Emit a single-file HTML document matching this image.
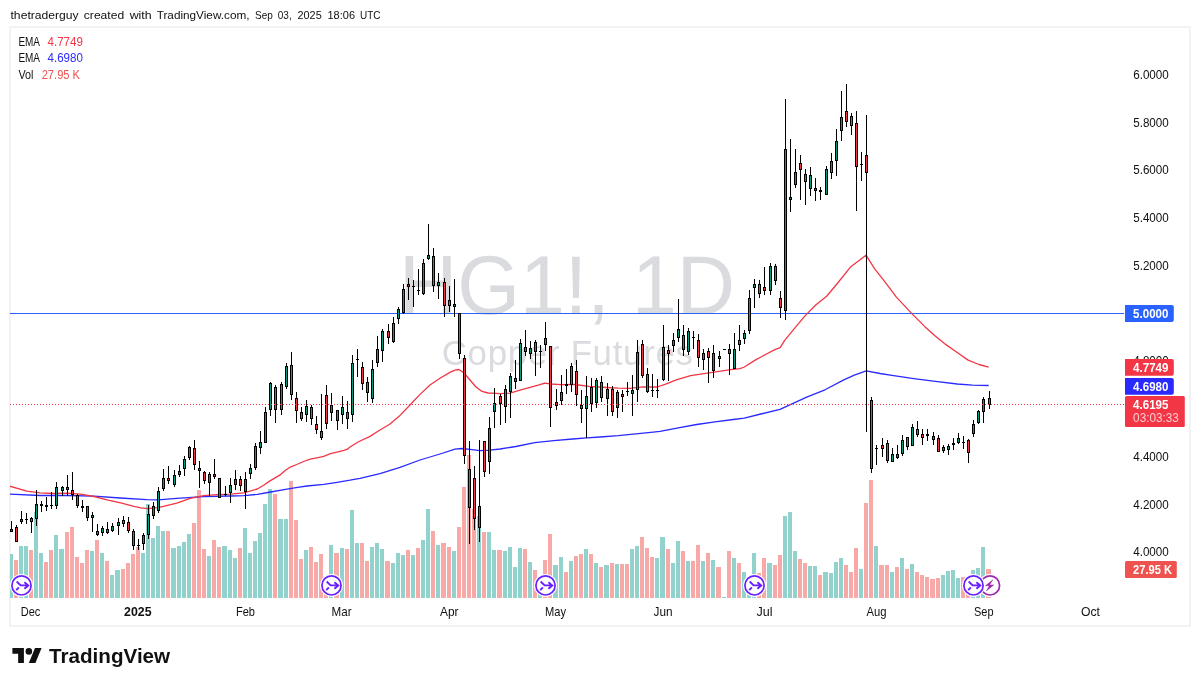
<!DOCTYPE html>
<html lang="en"><head><meta charset="utf-8"><title>HG1! 1D chart</title>
<style>html,body{margin:0;padding:0;background:#fff;}body{width:1200px;height:686px;overflow:hidden;position:relative;font-family:"Liberation Sans",sans-serif;}svg{position:absolute;left:0;top:0;display:block;}text{font-family:"Liberation Sans",sans-serif;}</style>
</head><body>
<svg width="1200" height="686" viewBox="0 0 1200 686">
<rect x="0" y="0" width="1200" height="686" fill="#ffffff"/>
<text y="18.8" font-size="11.3" fill="#101010"><tspan x="10.5" textLength="68.2" lengthAdjust="spacingAndGlyphs">thetraderguy</tspan> <tspan x="83.8" textLength="40.4" lengthAdjust="spacingAndGlyphs">created</tspan> <tspan x="129.7" textLength="22.0" lengthAdjust="spacingAndGlyphs">with</tspan> <tspan x="156.7" textLength="92.8" lengthAdjust="spacingAndGlyphs">TradingView.com,</tspan> <tspan x="255" textLength="17.8" lengthAdjust="spacingAndGlyphs">Sep</tspan> <tspan x="277.8" textLength="13.9" lengthAdjust="spacingAndGlyphs">03,</tspan> <tspan x="297.5" textLength="24.2" lengthAdjust="spacingAndGlyphs">2025</tspan> <tspan x="327.5" textLength="27.5" lengthAdjust="spacingAndGlyphs">18:06</tspan> <tspan x="360" textLength="20.5" lengthAdjust="spacingAndGlyphs">UTC</tspan></text>
<rect x="10" y="27" width="1180" height="599" fill="#ffffff" stroke="#f2f2f2" stroke-width="2" shape-rendering="crispEdges"/>
<g fill="#dadbde">
<text x="399.1" y="314" font-size="82.8" textLength="336" lengthAdjust="spacingAndGlyphs">HG1!, 1D</text>
<text x="441.7" y="364.6" font-size="34.8" textLength="251.3" lengthAdjust="spacing">Copper Futures</text>
</g>
<defs><clipPath id="pane"><rect x="10" y="28" width="1115" height="571"/></clipPath></defs>
<g clip-path="url(#pane)">
<g shape-rendering="crispEdges">
<rect x="9" y="554" width="4" height="44" fill="#92d2cc"/>
<rect x="14" y="560" width="4" height="38" fill="#f7a9a7"/>
<rect x="19" y="546" width="4" height="52" fill="#92d2cc"/>
<rect x="24" y="546" width="4" height="52" fill="#92d2cc"/>
<rect x="29" y="550" width="4" height="48" fill="#f7a9a7"/>
<rect x="34" y="512" width="4" height="86" fill="#92d2cc"/>
<rect x="39" y="553" width="4" height="45" fill="#92d2cc"/>
<rect x="44" y="562" width="4" height="36" fill="#f7a9a7"/>
<rect x="49" y="550" width="4" height="48" fill="#f7a9a7"/>
<rect x="54" y="535" width="4" height="63" fill="#92d2cc"/>
<rect x="59" y="549" width="5" height="49" fill="#92d2cc"/>
<rect x="65" y="532" width="4" height="66" fill="#f7a9a7"/>
<rect x="70" y="527" width="4" height="71" fill="#f7a9a7"/>
<rect x="75" y="557" width="4" height="41" fill="#f7a9a7"/>
<rect x="80" y="563" width="4" height="35" fill="#f7a9a7"/>
<rect x="85" y="550" width="4" height="48" fill="#f7a9a7"/>
<rect x="90" y="551" width="4" height="47" fill="#92d2cc"/>
<rect x="95" y="540" width="4" height="58" fill="#f7a9a7"/>
<rect x="100" y="553" width="4" height="45" fill="#92d2cc"/>
<rect x="105" y="561" width="4" height="37" fill="#f7a9a7"/>
<rect x="110" y="575" width="4" height="23" fill="#92d2cc"/>
<rect x="115" y="570" width="5" height="28" fill="#92d2cc"/>
<rect x="121" y="569" width="4" height="29" fill="#f7a9a7"/>
<rect x="126" y="563" width="4" height="35" fill="#f7a9a7"/>
<rect x="131" y="554" width="4" height="44" fill="#f7a9a7"/>
<rect x="136" y="547" width="4" height="51" fill="#f7a9a7"/>
<rect x="141" y="553" width="4" height="45" fill="#92d2cc"/>
<rect x="146" y="504" width="4" height="94" fill="#92d2cc"/>
<rect x="151" y="538" width="4" height="60" fill="#92d2cc"/>
<rect x="156" y="526" width="4" height="72" fill="#92d2cc"/>
<rect x="161" y="531" width="4" height="67" fill="#92d2cc"/>
<rect x="166" y="531" width="4" height="67" fill="#f7a9a7"/>
<rect x="171" y="548" width="5" height="50" fill="#92d2cc"/>
<rect x="177" y="546" width="4" height="52" fill="#92d2cc"/>
<rect x="182" y="542" width="4" height="56" fill="#92d2cc"/>
<rect x="187" y="534" width="4" height="64" fill="#92d2cc"/>
<rect x="192" y="523" width="4" height="75" fill="#f7a9a7"/>
<rect x="197" y="490" width="4" height="108" fill="#f7a9a7"/>
<rect x="202" y="549" width="4" height="49" fill="#f7a9a7"/>
<rect x="207" y="556" width="4" height="42" fill="#92d2cc"/>
<rect x="212" y="540" width="4" height="58" fill="#f7a9a7"/>
<rect x="217" y="547" width="4" height="51" fill="#f7a9a7"/>
<rect x="222" y="546" width="5" height="52" fill="#92d2cc"/>
<rect x="228" y="550" width="4" height="48" fill="#92d2cc"/>
<rect x="233" y="558" width="4" height="40" fill="#92d2cc"/>
<rect x="238" y="548" width="4" height="50" fill="#f7a9a7"/>
<rect x="243" y="528" width="4" height="70" fill="#92d2cc"/>
<rect x="248" y="553" width="4" height="45" fill="#92d2cc"/>
<rect x="253" y="541" width="4" height="57" fill="#92d2cc"/>
<rect x="258" y="533" width="4" height="65" fill="#92d2cc"/>
<rect x="263" y="504" width="4" height="94" fill="#92d2cc"/>
<rect x="268" y="489" width="4" height="109" fill="#92d2cc"/>
<rect x="273" y="494" width="4" height="104" fill="#f7a9a7"/>
<rect x="278" y="519" width="5" height="79" fill="#92d2cc"/>
<rect x="284" y="519" width="4" height="79" fill="#92d2cc"/>
<rect x="289" y="481" width="4" height="117" fill="#f7a9a7"/>
<rect x="294" y="520" width="4" height="78" fill="#f7a9a7"/>
<rect x="299" y="559" width="4" height="39" fill="#f7a9a7"/>
<rect x="304" y="550" width="4" height="48" fill="#92d2cc"/>
<rect x="309" y="547" width="4" height="51" fill="#f7a9a7"/>
<rect x="314" y="562" width="4" height="36" fill="#f7a9a7"/>
<rect x="319" y="554" width="4" height="44" fill="#f7a9a7"/>
<rect x="324" y="586" width="4" height="12" fill="#f7a9a7"/>
<rect x="329" y="545" width="4" height="53" fill="#92d2cc"/>
<rect x="334" y="553" width="5" height="45" fill="#f7a9a7"/>
<rect x="340" y="548" width="4" height="50" fill="#92d2cc"/>
<rect x="345" y="549" width="4" height="49" fill="#f7a9a7"/>
<rect x="350" y="510" width="4" height="88" fill="#92d2cc"/>
<rect x="355" y="543" width="4" height="55" fill="#92d2cc"/>
<rect x="360" y="543" width="4" height="55" fill="#f7a9a7"/>
<rect x="365" y="561" width="4" height="37" fill="#f7a9a7"/>
<rect x="370" y="547" width="4" height="51" fill="#92d2cc"/>
<rect x="375" y="543" width="4" height="55" fill="#92d2cc"/>
<rect x="380" y="549" width="4" height="49" fill="#92d2cc"/>
<rect x="385" y="561" width="5" height="37" fill="#f7a9a7"/>
<rect x="391" y="563" width="4" height="35" fill="#92d2cc"/>
<rect x="396" y="553" width="4" height="45" fill="#92d2cc"/>
<rect x="401" y="555" width="4" height="43" fill="#92d2cc"/>
<rect x="406" y="550" width="4" height="48" fill="#f7a9a7"/>
<rect x="411" y="555" width="4" height="43" fill="#92d2cc"/>
<rect x="416" y="548" width="4" height="50" fill="#f7a9a7"/>
<rect x="421" y="540" width="4" height="58" fill="#92d2cc"/>
<rect x="426" y="509" width="4" height="89" fill="#92d2cc"/>
<rect x="431" y="531" width="4" height="67" fill="#f7a9a7"/>
<rect x="436" y="545" width="4" height="53" fill="#92d2cc"/>
<rect x="441" y="543" width="5" height="55" fill="#f7a9a7"/>
<rect x="447" y="547" width="4" height="51" fill="#f7a9a7"/>
<rect x="452" y="551" width="4" height="47" fill="#92d2cc"/>
<rect x="457" y="527" width="4" height="71" fill="#f7a9a7"/>
<rect x="462" y="487" width="4" height="111" fill="#f7a9a7"/>
<rect x="467" y="455" width="4" height="143" fill="#f7a9a7"/>
<rect x="472" y="509" width="4" height="89" fill="#f7a9a7"/>
<rect x="477" y="516" width="4" height="82" fill="#92d2cc"/>
<rect x="482" y="532" width="4" height="66" fill="#f7a9a7"/>
<rect x="487" y="532" width="4" height="66" fill="#92d2cc"/>
<rect x="492" y="550" width="4" height="48" fill="#92d2cc"/>
<rect x="497" y="550" width="5" height="48" fill="#f7a9a7"/>
<rect x="503" y="551" width="4" height="47" fill="#92d2cc"/>
<rect x="508" y="547" width="4" height="51" fill="#92d2cc"/>
<rect x="513" y="567" width="4" height="31" fill="#92d2cc"/>
<rect x="518" y="548" width="4" height="50" fill="#92d2cc"/>
<rect x="523" y="549" width="4" height="49" fill="#f7a9a7"/>
<rect x="528" y="562" width="4" height="36" fill="#92d2cc"/>
<rect x="533" y="570" width="4" height="28" fill="#f7a9a7"/>
<rect x="538" y="586" width="4" height="12" fill="#92d2cc"/>
<rect x="543" y="560" width="4" height="38" fill="#f7a9a7"/>
<rect x="548" y="534" width="4" height="64" fill="#f7a9a7"/>
<rect x="553" y="565" width="5" height="33" fill="#92d2cc"/>
<rect x="559" y="557" width="4" height="41" fill="#92d2cc"/>
<rect x="564" y="572" width="4" height="26" fill="#f7a9a7"/>
<rect x="569" y="561" width="4" height="37" fill="#92d2cc"/>
<rect x="574" y="556" width="4" height="42" fill="#f7a9a7"/>
<rect x="579" y="554" width="4" height="44" fill="#f7a9a7"/>
<rect x="584" y="549" width="4" height="49" fill="#92d2cc"/>
<rect x="589" y="554" width="4" height="44" fill="#f7a9a7"/>
<rect x="594" y="563" width="4" height="35" fill="#92d2cc"/>
<rect x="599" y="567" width="4" height="31" fill="#f7a9a7"/>
<rect x="604" y="565" width="5" height="33" fill="#92d2cc"/>
<rect x="610" y="563" width="4" height="35" fill="#f7a9a7"/>
<rect x="615" y="564" width="4" height="34" fill="#92d2cc"/>
<rect x="620" y="564" width="4" height="34" fill="#f7a9a7"/>
<rect x="625" y="564" width="4" height="34" fill="#f7a9a7"/>
<rect x="630" y="549" width="4" height="49" fill="#92d2cc"/>
<rect x="635" y="546" width="4" height="52" fill="#92d2cc"/>
<rect x="640" y="537" width="4" height="61" fill="#f7a9a7"/>
<rect x="645" y="548" width="4" height="50" fill="#f7a9a7"/>
<rect x="650" y="557" width="4" height="41" fill="#f7a9a7"/>
<rect x="655" y="558" width="4" height="40" fill="#92d2cc"/>
<rect x="660" y="537" width="5" height="61" fill="#92d2cc"/>
<rect x="666" y="549" width="4" height="49" fill="#f7a9a7"/>
<rect x="671" y="563" width="4" height="35" fill="#92d2cc"/>
<rect x="676" y="541" width="4" height="57" fill="#92d2cc"/>
<rect x="681" y="551" width="4" height="47" fill="#f7a9a7"/>
<rect x="686" y="561" width="4" height="37" fill="#92d2cc"/>
<rect x="691" y="561" width="4" height="37" fill="#f7a9a7"/>
<rect x="696" y="545" width="4" height="53" fill="#f7a9a7"/>
<rect x="701" y="561" width="4" height="37" fill="#92d2cc"/>
<rect x="706" y="553" width="4" height="45" fill="#f7a9a7"/>
<rect x="711" y="560" width="4" height="38" fill="#92d2cc"/>
<rect x="716" y="567" width="5" height="31" fill="#f7a9a7"/>
<rect x="722" y="597" width="4" height="1" fill="#92d2cc"/>
<rect x="727" y="551" width="4" height="47" fill="#f7a9a7"/>
<rect x="732" y="558" width="4" height="40" fill="#92d2cc"/>
<rect x="737" y="563" width="4" height="35" fill="#f7a9a7"/>
<rect x="742" y="572" width="4" height="26" fill="#92d2cc"/>
<rect x="747" y="586" width="4" height="12" fill="#92d2cc"/>
<rect x="752" y="553" width="4" height="45" fill="#92d2cc"/>
<rect x="757" y="573" width="4" height="25" fill="#f7a9a7"/>
<rect x="762" y="558" width="4" height="40" fill="#f7a9a7"/>
<rect x="767" y="563" width="5" height="35" fill="#92d2cc"/>
<rect x="773" y="565" width="4" height="33" fill="#f7a9a7"/>
<rect x="778" y="555" width="4" height="43" fill="#f7a9a7"/>
<rect x="783" y="516" width="4" height="82" fill="#92d2cc"/>
<rect x="788" y="512" width="4" height="86" fill="#92d2cc"/>
<rect x="793" y="551" width="4" height="47" fill="#92d2cc"/>
<rect x="798" y="559" width="4" height="39" fill="#f7a9a7"/>
<rect x="803" y="563" width="4" height="35" fill="#f7a9a7"/>
<rect x="808" y="566" width="4" height="32" fill="#92d2cc"/>
<rect x="813" y="566" width="4" height="32" fill="#92d2cc"/>
<rect x="818" y="575" width="4" height="23" fill="#f7a9a7"/>
<rect x="823" y="572" width="5" height="26" fill="#92d2cc"/>
<rect x="829" y="573" width="4" height="25" fill="#92d2cc"/>
<rect x="834" y="562" width="4" height="36" fill="#92d2cc"/>
<rect x="839" y="558" width="4" height="40" fill="#92d2cc"/>
<rect x="844" y="565" width="4" height="33" fill="#f7a9a7"/>
<rect x="849" y="572" width="4" height="26" fill="#f7a9a7"/>
<rect x="854" y="548" width="4" height="50" fill="#f7a9a7"/>
<rect x="859" y="569" width="4" height="29" fill="#92d2cc"/>
<rect x="864" y="503" width="4" height="95" fill="#f7a9a7"/>
<rect x="869" y="480" width="4" height="118" fill="#f7a9a7"/>
<rect x="874" y="546" width="4" height="52" fill="#92d2cc"/>
<rect x="879" y="565" width="5" height="33" fill="#f7a9a7"/>
<rect x="885" y="565" width="4" height="33" fill="#f7a9a7"/>
<rect x="890" y="572" width="4" height="26" fill="#92d2cc"/>
<rect x="895" y="567" width="4" height="31" fill="#f7a9a7"/>
<rect x="900" y="558" width="4" height="40" fill="#92d2cc"/>
<rect x="905" y="569" width="4" height="29" fill="#f7a9a7"/>
<rect x="910" y="564" width="4" height="34" fill="#92d2cc"/>
<rect x="915" y="572" width="4" height="26" fill="#f7a9a7"/>
<rect x="920" y="575" width="4" height="23" fill="#f7a9a7"/>
<rect x="925" y="577" width="4" height="21" fill="#f7a9a7"/>
<rect x="930" y="579" width="5" height="19" fill="#f7a9a7"/>
<rect x="936" y="578" width="4" height="20" fill="#f7a9a7"/>
<rect x="941" y="575" width="4" height="23" fill="#92d2cc"/>
<rect x="946" y="571" width="4" height="27" fill="#92d2cc"/>
<rect x="951" y="570" width="4" height="28" fill="#92d2cc"/>
<rect x="956" y="578" width="4" height="20" fill="#92d2cc"/>
<rect x="961" y="577" width="4" height="21" fill="#f7a9a7"/>
<rect x="966" y="586" width="4" height="12" fill="#f7a9a7"/>
<rect x="971" y="570" width="4" height="28" fill="#92d2cc"/>
<rect x="976" y="568" width="4" height="30" fill="#92d2cc"/>
<rect x="981" y="547" width="4" height="51" fill="#92d2cc"/>
<rect x="986" y="569" width="5" height="29" fill="#f7a9a7"/>
</g>
<rect x="10" y="313" width="1114" height="1" fill="#2962ff" shape-rendering="crispEdges"/>
<path d="M10.0,494.2 L40.0,495.5 L67.0,495.5 L94.0,496.2 L120.0,498.0 L147.0,499.6 L158.0,499.8 L176.8,498.4 L203.6,496.7 L230.5,496.0 L243.9,495.7 L257.3,494.4 L270.7,492.0 L284.1,489.7 L297.5,487.4 L306.9,486.0 L323.7,484.3 L337.1,482.3 L350.0,480.2 L360.0,478.3 L380.0,473.6 L400.0,467.4 L420.0,460.0 L440.0,454.0 L455.0,449.2 L462.0,448.5 L470.0,449.4 L480.0,450.7 L490.0,450.2 L500.0,449.0 L515.8,446.5 L534.8,442.7 L553.7,440.7 L572.7,439.0 L586.8,437.9 L600.0,437.0 L618.3,435.6 L653.3,432.1 L660.0,431.4 L678.3,427.8 L696.7,424.5 L715.0,421.9 L733.3,419.5 L744.3,418.2 L760.8,414.0 L780.0,409.4 L792.0,403.9 L806.7,397.1 L825.0,389.8 L843.3,380.1 L854.3,375.1 L866.3,370.9 L880.0,373.5 L892.0,375.3 L913.8,378.6 L935.5,381.4 L957.2,384.0 L972.4,385.1 L988.7,385.5" fill="none" stroke="#2a2aff" stroke-width="1.3" stroke-linejoin="round"/>
<path d="M10.0,486.2 L26.8,491.1 L40.0,492.9 L53.6,493.5 L67.0,493.1 L80.5,494.2 L94.0,496.5 L107.0,499.8 L120.7,502.9 L134.0,506.3 L141.0,507.9 L147.5,508.6 L158.0,507.6 L163.4,506.4 L176.8,503.1 L190.2,498.4 L203.6,495.7 L217.0,494.6 L230.5,494.1 L243.9,492.8 L257.3,489.0 L264.0,485.0 L270.0,480.9 L280.1,474.9 L285.4,470.2 L290.1,467.2 L296.8,464.5 L303.5,461.5 L310.2,459.1 L316.9,457.8 L323.7,456.4 L330.4,453.7 L337.1,452.1 L343.8,450.4 L347.1,449.4 L350.0,447.0 L358.0,442.0 L370.0,436.4 L380.0,430.0 L390.0,424.0 L400.0,415.4 L410.0,405.0 L420.0,394.4 L430.0,385.0 L440.0,378.3 L450.0,372.4 L455.0,370.2 L459.0,369.5 L464.0,373.0 L470.0,380.0 L476.0,387.0 L482.0,391.4 L488.0,393.0 L500.0,393.7 L510.0,393.2 L520.0,390.2 L530.0,387.4 L540.0,384.6 L544.6,383.2 L551.3,384.0 L560.7,384.7 L575.0,384.5 L589.0,386.4 L606.6,387.5 L618.0,388.2 L630.0,388.3 L643.0,386.8 L657.0,387.0 L665.0,384.3 L677.0,379.7 L690.6,375.7 L704.0,373.7 L717.4,371.7 L730.8,369.7 L740.0,368.6 L744.3,367.0 L755.2,360.1 L766.0,354.3 L774.8,349.7 L780.2,347.7 L784.5,340.6 L794.3,328.6 L805.2,315.6 L816.0,304.7 L826.9,296.0 L837.7,283.0 L850.8,266.7 L866.0,255.2 L874.7,268.9 L883.4,279.8 L896.4,297.1 L911.6,313.4 L924.6,326.4 L935.5,336.2 L946.3,344.9 L957.2,352.5 L968.1,360.1 L978.9,364.5 L988.7,367.1" fill="none" stroke="#f23645" stroke-width="1.3" stroke-linejoin="round"/>
<g shape-rendering="crispEdges">
<rect x="11" y="521" width="1" height="11" fill="#000"/>
<rect x="10" y="529" width="3" height="3" fill="#000"/>
<rect x="11" y="530" width="1" height="1" fill="#089981"/>
<rect x="16" y="525" width="1" height="17" fill="#000"/>
<rect x="15" y="527" width="3" height="15" fill="#000"/>
<rect x="16" y="528" width="1" height="13" fill="#f23645"/>
<rect x="21" y="511" width="1" height="13" fill="#000"/>
<rect x="20" y="519" width="3" height="3" fill="#000"/>
<rect x="21" y="520" width="1" height="1" fill="#089981"/>
<rect x="26" y="513" width="1" height="11" fill="#000"/>
<rect x="25" y="519" width="3" height="1" fill="#000"/>
<rect x="31" y="517" width="1" height="16" fill="#000"/>
<rect x="30" y="518" width="3" height="4" fill="#000"/>
<rect x="31" y="519" width="1" height="2" fill="#f23645"/>
<rect x="36" y="490" width="1" height="36" fill="#000"/>
<rect x="35" y="504" width="3" height="15" fill="#000"/>
<rect x="36" y="505" width="1" height="13" fill="#089981"/>
<rect x="41" y="501" width="1" height="11" fill="#000"/>
<rect x="40" y="504" width="3" height="2" fill="#000"/>
<rect x="46" y="497" width="1" height="14" fill="#000"/>
<rect x="45" y="505" width="3" height="2" fill="#000"/>
<rect x="51" y="492" width="1" height="17" fill="#000"/>
<rect x="50" y="505" width="3" height="1" fill="#000"/>
<rect x="56" y="482" width="1" height="27" fill="#000"/>
<rect x="55" y="487" width="3" height="19" fill="#000"/>
<rect x="56" y="488" width="1" height="17" fill="#089981"/>
<rect x="62" y="486" width="1" height="10" fill="#000"/>
<rect x="61" y="487" width="3" height="4" fill="#000"/>
<rect x="62" y="488" width="1" height="2" fill="#089981"/>
<rect x="67" y="475" width="1" height="21" fill="#000"/>
<rect x="66" y="487" width="3" height="3" fill="#000"/>
<rect x="67" y="488" width="1" height="1" fill="#f23645"/>
<rect x="72" y="472" width="1" height="28" fill="#000"/>
<rect x="71" y="490" width="3" height="5" fill="#000"/>
<rect x="72" y="491" width="1" height="3" fill="#f23645"/>
<rect x="77" y="494" width="1" height="14" fill="#000"/>
<rect x="76" y="495" width="3" height="11" fill="#000"/>
<rect x="77" y="496" width="1" height="9" fill="#f23645"/>
<rect x="82" y="500" width="1" height="12" fill="#000"/>
<rect x="81" y="506" width="3" height="2" fill="#000"/>
<rect x="87" y="506" width="1" height="15" fill="#000"/>
<rect x="86" y="506" width="3" height="12" fill="#000"/>
<rect x="87" y="507" width="1" height="10" fill="#f23645"/>
<rect x="92" y="512" width="1" height="20" fill="#000"/>
<rect x="91" y="515" width="3" height="3" fill="#000"/>
<rect x="92" y="516" width="1" height="1" fill="#089981"/>
<rect x="97" y="524" width="1" height="12" fill="#000"/>
<rect x="96" y="531" width="3" height="4" fill="#000"/>
<rect x="97" y="532" width="1" height="2" fill="#f23645"/>
<rect x="102" y="526" width="1" height="10" fill="#000"/>
<rect x="101" y="528" width="3" height="5" fill="#000"/>
<rect x="102" y="529" width="1" height="3" fill="#089981"/>
<rect x="107" y="522" width="1" height="12" fill="#000"/>
<rect x="106" y="529" width="3" height="4" fill="#000"/>
<rect x="107" y="530" width="1" height="2" fill="#f23645"/>
<rect x="112" y="523" width="1" height="9" fill="#000"/>
<rect x="111" y="526" width="3" height="5" fill="#000"/>
<rect x="112" y="527" width="1" height="3" fill="#089981"/>
<rect x="118" y="518" width="1" height="17" fill="#000"/>
<rect x="117" y="522" width="3" height="4" fill="#000"/>
<rect x="118" y="523" width="1" height="2" fill="#089981"/>
<rect x="123" y="516" width="1" height="11" fill="#000"/>
<rect x="122" y="520" width="3" height="4" fill="#000"/>
<rect x="123" y="521" width="1" height="2" fill="#f23645"/>
<rect x="128" y="517" width="1" height="16" fill="#000"/>
<rect x="127" y="522" width="3" height="9" fill="#000"/>
<rect x="128" y="523" width="1" height="7" fill="#f23645"/>
<rect x="133" y="529" width="1" height="21" fill="#000"/>
<rect x="132" y="531" width="3" height="15" fill="#000"/>
<rect x="133" y="532" width="1" height="13" fill="#f23645"/>
<rect x="138" y="539" width="1" height="11" fill="#000"/>
<rect x="137" y="545" width="3" height="1" fill="#000"/>
<rect x="143" y="533" width="1" height="17" fill="#000"/>
<rect x="142" y="535" width="3" height="9" fill="#000"/>
<rect x="143" y="536" width="1" height="7" fill="#089981"/>
<rect x="148" y="505" width="1" height="34" fill="#000"/>
<rect x="147" y="514" width="3" height="21" fill="#000"/>
<rect x="148" y="515" width="1" height="19" fill="#089981"/>
<rect x="153" y="502" width="1" height="17" fill="#000"/>
<rect x="152" y="506" width="3" height="10" fill="#000"/>
<rect x="153" y="507" width="1" height="8" fill="#089981"/>
<rect x="158" y="487" width="1" height="26" fill="#000"/>
<rect x="157" y="491" width="3" height="20" fill="#000"/>
<rect x="158" y="492" width="1" height="18" fill="#089981"/>
<rect x="163" y="469" width="1" height="22" fill="#000"/>
<rect x="162" y="478" width="3" height="11" fill="#000"/>
<rect x="163" y="479" width="1" height="9" fill="#089981"/>
<rect x="168" y="466" width="1" height="18" fill="#000"/>
<rect x="167" y="478" width="3" height="3" fill="#000"/>
<rect x="168" y="479" width="1" height="1" fill="#f23645"/>
<rect x="174" y="470" width="1" height="17" fill="#000"/>
<rect x="173" y="475" width="3" height="10" fill="#000"/>
<rect x="174" y="476" width="1" height="8" fill="#089981"/>
<rect x="179" y="465" width="1" height="12" fill="#000"/>
<rect x="178" y="471" width="3" height="4" fill="#000"/>
<rect x="179" y="472" width="1" height="2" fill="#089981"/>
<rect x="184" y="456" width="1" height="20" fill="#000"/>
<rect x="183" y="459" width="3" height="10" fill="#000"/>
<rect x="184" y="460" width="1" height="8" fill="#089981"/>
<rect x="189" y="446" width="1" height="14" fill="#000"/>
<rect x="188" y="447" width="3" height="11" fill="#000"/>
<rect x="189" y="448" width="1" height="9" fill="#089981"/>
<rect x="194" y="440" width="1" height="30" fill="#000"/>
<rect x="193" y="448" width="3" height="17" fill="#000"/>
<rect x="194" y="449" width="1" height="15" fill="#f23645"/>
<rect x="199" y="461" width="1" height="27" fill="#000"/>
<rect x="198" y="468" width="3" height="3" fill="#000"/>
<rect x="199" y="469" width="1" height="1" fill="#f23645"/>
<rect x="204" y="471" width="1" height="13" fill="#000"/>
<rect x="203" y="472" width="3" height="9" fill="#000"/>
<rect x="204" y="473" width="1" height="7" fill="#f23645"/>
<rect x="209" y="472" width="1" height="24" fill="#000"/>
<rect x="208" y="474" width="3" height="9" fill="#000"/>
<rect x="209" y="475" width="1" height="7" fill="#089981"/>
<rect x="214" y="459" width="1" height="20" fill="#000"/>
<rect x="213" y="474" width="3" height="3" fill="#000"/>
<rect x="214" y="475" width="1" height="1" fill="#f23645"/>
<rect x="219" y="478" width="1" height="20" fill="#000"/>
<rect x="218" y="478" width="3" height="20" fill="#000"/>
<rect x="219" y="479" width="1" height="18" fill="#f23645"/>
<rect x="225" y="486" width="1" height="10" fill="#000"/>
<rect x="224" y="494" width="3" height="1" fill="#000"/>
<rect x="230" y="478" width="1" height="25" fill="#000"/>
<rect x="229" y="485" width="3" height="8" fill="#000"/>
<rect x="230" y="486" width="1" height="6" fill="#089981"/>
<rect x="235" y="470" width="1" height="20" fill="#000"/>
<rect x="234" y="479" width="3" height="6" fill="#000"/>
<rect x="235" y="480" width="1" height="4" fill="#089981"/>
<rect x="240" y="476" width="1" height="15" fill="#000"/>
<rect x="239" y="479" width="3" height="7" fill="#000"/>
<rect x="240" y="480" width="1" height="5" fill="#f23645"/>
<rect x="245" y="472" width="1" height="37" fill="#000"/>
<rect x="244" y="479" width="3" height="13" fill="#000"/>
<rect x="245" y="480" width="1" height="11" fill="#089981"/>
<rect x="250" y="464" width="1" height="15" fill="#000"/>
<rect x="249" y="468" width="3" height="6" fill="#000"/>
<rect x="250" y="469" width="1" height="4" fill="#089981"/>
<rect x="255" y="443" width="1" height="27" fill="#000"/>
<rect x="254" y="446" width="3" height="22" fill="#000"/>
<rect x="255" y="447" width="1" height="20" fill="#089981"/>
<rect x="260" y="431" width="1" height="23" fill="#000"/>
<rect x="259" y="442" width="3" height="6" fill="#000"/>
<rect x="260" y="443" width="1" height="4" fill="#089981"/>
<rect x="265" y="407" width="1" height="36" fill="#000"/>
<rect x="264" y="412" width="3" height="31" fill="#000"/>
<rect x="265" y="413" width="1" height="29" fill="#089981"/>
<rect x="270" y="382" width="1" height="34" fill="#000"/>
<rect x="269" y="383" width="3" height="27" fill="#000"/>
<rect x="270" y="384" width="1" height="25" fill="#089981"/>
<rect x="275" y="385" width="1" height="38" fill="#000"/>
<rect x="274" y="387" width="3" height="23" fill="#000"/>
<rect x="275" y="388" width="1" height="21" fill="#f23645"/>
<rect x="281" y="382" width="1" height="33" fill="#000"/>
<rect x="280" y="384" width="3" height="26" fill="#000"/>
<rect x="281" y="385" width="1" height="24" fill="#089981"/>
<rect x="286" y="363" width="1" height="26" fill="#000"/>
<rect x="285" y="366" width="3" height="21" fill="#000"/>
<rect x="286" y="367" width="1" height="19" fill="#089981"/>
<rect x="291" y="352" width="1" height="48" fill="#000"/>
<rect x="290" y="365" width="3" height="30" fill="#000"/>
<rect x="291" y="366" width="1" height="28" fill="#f23645"/>
<rect x="296" y="392" width="1" height="31" fill="#000"/>
<rect x="295" y="398" width="3" height="13" fill="#000"/>
<rect x="296" y="399" width="1" height="11" fill="#f23645"/>
<rect x="301" y="407" width="1" height="14" fill="#000"/>
<rect x="300" y="412" width="3" height="7" fill="#000"/>
<rect x="301" y="413" width="1" height="5" fill="#f23645"/>
<rect x="306" y="400" width="1" height="22" fill="#000"/>
<rect x="305" y="406" width="3" height="9" fill="#000"/>
<rect x="306" y="407" width="1" height="7" fill="#089981"/>
<rect x="311" y="405" width="1" height="20" fill="#000"/>
<rect x="310" y="407" width="3" height="12" fill="#000"/>
<rect x="311" y="408" width="1" height="10" fill="#f23645"/>
<rect x="316" y="416" width="1" height="18" fill="#000"/>
<rect x="315" y="424" width="3" height="6" fill="#000"/>
<rect x="316" y="425" width="1" height="4" fill="#f23645"/>
<rect x="321" y="394" width="1" height="46" fill="#000"/>
<rect x="320" y="431" width="3" height="7" fill="#000"/>
<rect x="321" y="432" width="1" height="5" fill="#f23645"/>
<rect x="326" y="385" width="1" height="44" fill="#000"/>
<rect x="325" y="395" width="3" height="29" fill="#000"/>
<rect x="326" y="396" width="1" height="27" fill="#f23645"/>
<rect x="331" y="393" width="1" height="28" fill="#000"/>
<rect x="330" y="405" width="3" height="8" fill="#000"/>
<rect x="331" y="406" width="1" height="6" fill="#089981"/>
<rect x="337" y="410" width="1" height="20" fill="#000"/>
<rect x="336" y="410" width="3" height="11" fill="#000"/>
<rect x="337" y="411" width="1" height="9" fill="#f23645"/>
<rect x="342" y="396" width="1" height="28" fill="#000"/>
<rect x="341" y="407" width="3" height="8" fill="#000"/>
<rect x="342" y="408" width="1" height="6" fill="#089981"/>
<rect x="347" y="401" width="1" height="28" fill="#000"/>
<rect x="346" y="412" width="3" height="7" fill="#000"/>
<rect x="347" y="413" width="1" height="5" fill="#f23645"/>
<rect x="352" y="355" width="1" height="67" fill="#000"/>
<rect x="351" y="363" width="3" height="52" fill="#000"/>
<rect x="352" y="364" width="1" height="50" fill="#089981"/>
<rect x="357" y="349" width="1" height="28" fill="#000"/>
<rect x="356" y="359" width="3" height="1" fill="#000"/>
<rect x="362" y="362" width="1" height="28" fill="#000"/>
<rect x="361" y="367" width="3" height="17" fill="#000"/>
<rect x="362" y="368" width="1" height="15" fill="#f23645"/>
<rect x="367" y="377" width="1" height="25" fill="#000"/>
<rect x="366" y="382" width="3" height="11" fill="#000"/>
<rect x="367" y="383" width="1" height="9" fill="#f23645"/>
<rect x="372" y="360" width="1" height="43" fill="#000"/>
<rect x="371" y="369" width="3" height="30" fill="#000"/>
<rect x="372" y="370" width="1" height="28" fill="#089981"/>
<rect x="377" y="336" width="1" height="31" fill="#000"/>
<rect x="376" y="349" width="3" height="14" fill="#000"/>
<rect x="377" y="350" width="1" height="12" fill="#089981"/>
<rect x="382" y="329" width="1" height="33" fill="#000"/>
<rect x="381" y="331" width="3" height="20" fill="#000"/>
<rect x="382" y="332" width="1" height="18" fill="#089981"/>
<rect x="388" y="324" width="1" height="20" fill="#000"/>
<rect x="387" y="331" width="3" height="7" fill="#000"/>
<rect x="388" y="332" width="1" height="5" fill="#f23645"/>
<rect x="393" y="317" width="1" height="26" fill="#000"/>
<rect x="392" y="323" width="3" height="19" fill="#000"/>
<rect x="393" y="324" width="1" height="17" fill="#089981"/>
<rect x="398" y="307" width="1" height="17" fill="#000"/>
<rect x="397" y="309" width="3" height="10" fill="#000"/>
<rect x="398" y="310" width="1" height="8" fill="#089981"/>
<rect x="403" y="284" width="1" height="30" fill="#000"/>
<rect x="402" y="289" width="3" height="24" fill="#000"/>
<rect x="403" y="290" width="1" height="22" fill="#089981"/>
<rect x="408" y="278" width="1" height="22" fill="#000"/>
<rect x="407" y="284" width="3" height="3" fill="#000"/>
<rect x="408" y="285" width="1" height="1" fill="#f23645"/>
<rect x="413" y="280" width="1" height="27" fill="#000"/>
<rect x="412" y="286" width="3" height="1" fill="#000"/>
<rect x="418" y="269" width="1" height="26" fill="#000"/>
<rect x="417" y="290" width="3" height="1" fill="#000"/>
<rect x="423" y="259" width="1" height="36" fill="#000"/>
<rect x="422" y="263" width="3" height="31" fill="#000"/>
<rect x="423" y="264" width="1" height="29" fill="#089981"/>
<rect x="428" y="224" width="1" height="36" fill="#000"/>
<rect x="427" y="255" width="3" height="4" fill="#000"/>
<rect x="428" y="256" width="1" height="2" fill="#089981"/>
<rect x="433" y="248" width="1" height="44" fill="#000"/>
<rect x="432" y="256" width="3" height="30" fill="#000"/>
<rect x="433" y="257" width="1" height="28" fill="#f23645"/>
<rect x="438" y="273" width="1" height="26" fill="#000"/>
<rect x="437" y="282" width="3" height="4" fill="#000"/>
<rect x="438" y="283" width="1" height="2" fill="#089981"/>
<rect x="444" y="278" width="1" height="39" fill="#000"/>
<rect x="443" y="282" width="3" height="24" fill="#000"/>
<rect x="444" y="283" width="1" height="22" fill="#f23645"/>
<rect x="449" y="286" width="1" height="26" fill="#000"/>
<rect x="448" y="300" width="3" height="6" fill="#000"/>
<rect x="449" y="301" width="1" height="4" fill="#f23645"/>
<rect x="454" y="279" width="1" height="38" fill="#000"/>
<rect x="453" y="304" width="3" height="3" fill="#000"/>
<rect x="454" y="305" width="1" height="1" fill="#089981"/>
<rect x="459" y="313" width="1" height="46" fill="#000"/>
<rect x="458" y="313" width="3" height="41" fill="#000"/>
<rect x="459" y="314" width="1" height="39" fill="#f23645"/>
<rect x="464" y="355" width="1" height="109" fill="#000"/>
<rect x="463" y="358" width="3" height="98" fill="#000"/>
<rect x="464" y="359" width="1" height="96" fill="#f23645"/>
<rect x="469" y="441" width="1" height="103" fill="#000"/>
<rect x="468" y="469" width="3" height="39" fill="#000"/>
<rect x="469" y="470" width="1" height="37" fill="#f23645"/>
<rect x="474" y="466" width="1" height="64" fill="#000"/>
<rect x="473" y="478" width="3" height="41" fill="#000"/>
<rect x="474" y="479" width="1" height="39" fill="#f23645"/>
<rect x="479" y="440" width="1" height="102" fill="#000"/>
<rect x="478" y="506" width="3" height="22" fill="#000"/>
<rect x="479" y="507" width="1" height="20" fill="#089981"/>
<rect x="484" y="441" width="1" height="36" fill="#000"/>
<rect x="483" y="441" width="3" height="31" fill="#000"/>
<rect x="484" y="442" width="1" height="29" fill="#f23645"/>
<rect x="489" y="417" width="1" height="57" fill="#000"/>
<rect x="488" y="428" width="3" height="34" fill="#000"/>
<rect x="489" y="429" width="1" height="32" fill="#089981"/>
<rect x="494" y="388" width="1" height="40" fill="#000"/>
<rect x="493" y="403" width="3" height="9" fill="#000"/>
<rect x="494" y="404" width="1" height="7" fill="#089981"/>
<rect x="500" y="394" width="1" height="31" fill="#000"/>
<rect x="499" y="396" width="3" height="8" fill="#000"/>
<rect x="500" y="397" width="1" height="6" fill="#f23645"/>
<rect x="505" y="385" width="1" height="38" fill="#000"/>
<rect x="504" y="389" width="3" height="18" fill="#000"/>
<rect x="505" y="390" width="1" height="16" fill="#089981"/>
<rect x="510" y="373" width="1" height="45" fill="#000"/>
<rect x="509" y="376" width="3" height="16" fill="#000"/>
<rect x="510" y="377" width="1" height="14" fill="#089981"/>
<rect x="515" y="360" width="1" height="29" fill="#000"/>
<rect x="514" y="378" width="3" height="4" fill="#000"/>
<rect x="515" y="379" width="1" height="2" fill="#089981"/>
<rect x="520" y="339" width="1" height="42" fill="#000"/>
<rect x="519" y="343" width="3" height="38" fill="#000"/>
<rect x="520" y="344" width="1" height="36" fill="#089981"/>
<rect x="525" y="330" width="1" height="26" fill="#000"/>
<rect x="524" y="347" width="3" height="5" fill="#000"/>
<rect x="525" y="348" width="1" height="3" fill="#f23645"/>
<rect x="530" y="341" width="1" height="18" fill="#000"/>
<rect x="529" y="348" width="3" height="6" fill="#000"/>
<rect x="530" y="349" width="1" height="4" fill="#089981"/>
<rect x="535" y="340" width="1" height="36" fill="#000"/>
<rect x="534" y="342" width="3" height="10" fill="#000"/>
<rect x="535" y="343" width="1" height="8" fill="#f23645"/>
<rect x="540" y="345" width="1" height="23" fill="#000"/>
<rect x="539" y="351" width="3" height="1" fill="#000"/>
<rect x="545" y="322" width="1" height="29" fill="#000"/>
<rect x="544" y="338" width="3" height="7" fill="#000"/>
<rect x="545" y="339" width="1" height="5" fill="#f23645"/>
<rect x="550" y="346" width="1" height="81" fill="#000"/>
<rect x="549" y="346" width="3" height="62" fill="#000"/>
<rect x="550" y="347" width="1" height="60" fill="#f23645"/>
<rect x="556" y="389" width="1" height="21" fill="#000"/>
<rect x="555" y="402" width="3" height="4" fill="#000"/>
<rect x="556" y="403" width="1" height="2" fill="#f23645"/>
<rect x="561" y="375" width="1" height="30" fill="#000"/>
<rect x="560" y="392" width="3" height="9" fill="#000"/>
<rect x="561" y="393" width="1" height="7" fill="#089981"/>
<rect x="566" y="369" width="1" height="25" fill="#000"/>
<rect x="565" y="384" width="3" height="2" fill="#000"/>
<rect x="571" y="363" width="1" height="29" fill="#000"/>
<rect x="570" y="366" width="3" height="19" fill="#000"/>
<rect x="571" y="367" width="1" height="17" fill="#089981"/>
<rect x="576" y="360" width="1" height="46" fill="#000"/>
<rect x="575" y="371" width="3" height="24" fill="#000"/>
<rect x="576" y="372" width="1" height="22" fill="#f23645"/>
<rect x="581" y="390" width="1" height="33" fill="#000"/>
<rect x="580" y="405" width="3" height="4" fill="#000"/>
<rect x="581" y="406" width="1" height="2" fill="#f23645"/>
<rect x="586" y="376" width="1" height="62" fill="#000"/>
<rect x="585" y="396" width="3" height="13" fill="#000"/>
<rect x="586" y="397" width="1" height="11" fill="#089981"/>
<rect x="591" y="378" width="1" height="34" fill="#000"/>
<rect x="590" y="387" width="3" height="17" fill="#000"/>
<rect x="591" y="388" width="1" height="15" fill="#f23645"/>
<rect x="596" y="378" width="1" height="30" fill="#000"/>
<rect x="595" y="380" width="3" height="23" fill="#000"/>
<rect x="596" y="381" width="1" height="21" fill="#089981"/>
<rect x="601" y="376" width="1" height="26" fill="#000"/>
<rect x="600" y="382" width="3" height="16" fill="#000"/>
<rect x="601" y="383" width="1" height="14" fill="#f23645"/>
<rect x="607" y="383" width="1" height="33" fill="#000"/>
<rect x="606" y="389" width="3" height="10" fill="#000"/>
<rect x="607" y="390" width="1" height="8" fill="#089981"/>
<rect x="612" y="386" width="1" height="30" fill="#000"/>
<rect x="611" y="389" width="3" height="23" fill="#000"/>
<rect x="612" y="390" width="1" height="21" fill="#f23645"/>
<rect x="617" y="390" width="1" height="28" fill="#000"/>
<rect x="616" y="392" width="3" height="16" fill="#000"/>
<rect x="617" y="393" width="1" height="14" fill="#089981"/>
<rect x="622" y="390" width="1" height="22" fill="#000"/>
<rect x="621" y="394" width="3" height="3" fill="#000"/>
<rect x="622" y="395" width="1" height="1" fill="#f23645"/>
<rect x="627" y="382" width="1" height="14" fill="#000"/>
<rect x="626" y="391" width="3" height="1" fill="#000"/>
<rect x="632" y="375" width="1" height="41" fill="#000"/>
<rect x="631" y="390" width="3" height="4" fill="#000"/>
<rect x="632" y="391" width="1" height="2" fill="#089981"/>
<rect x="637" y="340" width="1" height="62" fill="#000"/>
<rect x="636" y="352" width="3" height="38" fill="#000"/>
<rect x="637" y="353" width="1" height="36" fill="#089981"/>
<rect x="642" y="340" width="1" height="38" fill="#000"/>
<rect x="641" y="344" width="3" height="32" fill="#000"/>
<rect x="642" y="345" width="1" height="30" fill="#f23645"/>
<rect x="647" y="368" width="1" height="25" fill="#000"/>
<rect x="646" y="374" width="3" height="18" fill="#000"/>
<rect x="647" y="375" width="1" height="16" fill="#f23645"/>
<rect x="652" y="374" width="1" height="23" fill="#000"/>
<rect x="651" y="390" width="3" height="1" fill="#000"/>
<rect x="657" y="379" width="1" height="19" fill="#000"/>
<rect x="656" y="390" width="3" height="1" fill="#000"/>
<rect x="663" y="325" width="1" height="56" fill="#000"/>
<rect x="662" y="347" width="3" height="33" fill="#000"/>
<rect x="663" y="348" width="1" height="31" fill="#089981"/>
<rect x="668" y="345" width="1" height="36" fill="#000"/>
<rect x="667" y="350" width="3" height="4" fill="#000"/>
<rect x="668" y="351" width="1" height="2" fill="#f23645"/>
<rect x="673" y="333" width="1" height="19" fill="#000"/>
<rect x="672" y="340" width="3" height="6" fill="#000"/>
<rect x="673" y="341" width="1" height="4" fill="#089981"/>
<rect x="678" y="299" width="1" height="43" fill="#000"/>
<rect x="677" y="329" width="3" height="9" fill="#000"/>
<rect x="678" y="330" width="1" height="7" fill="#089981"/>
<rect x="683" y="325" width="1" height="31" fill="#000"/>
<rect x="682" y="335" width="3" height="15" fill="#000"/>
<rect x="683" y="336" width="1" height="13" fill="#f23645"/>
<rect x="688" y="328" width="1" height="27" fill="#000"/>
<rect x="687" y="331" width="3" height="21" fill="#000"/>
<rect x="688" y="332" width="1" height="19" fill="#089981"/>
<rect x="693" y="331" width="1" height="18" fill="#000"/>
<rect x="692" y="337" width="3" height="1" fill="#000"/>
<rect x="698" y="334" width="1" height="33" fill="#000"/>
<rect x="697" y="340" width="3" height="18" fill="#000"/>
<rect x="698" y="341" width="1" height="16" fill="#f23645"/>
<rect x="703" y="349" width="1" height="21" fill="#000"/>
<rect x="702" y="353" width="3" height="7" fill="#000"/>
<rect x="703" y="354" width="1" height="5" fill="#089981"/>
<rect x="708" y="348" width="1" height="35" fill="#000"/>
<rect x="707" y="351" width="3" height="7" fill="#000"/>
<rect x="708" y="352" width="1" height="5" fill="#f23645"/>
<rect x="713" y="345" width="1" height="33" fill="#000"/>
<rect x="712" y="353" width="3" height="18" fill="#000"/>
<rect x="713" y="354" width="1" height="16" fill="#089981"/>
<rect x="719" y="351" width="1" height="16" fill="#000"/>
<rect x="718" y="356" width="3" height="3" fill="#000"/>
<rect x="719" y="357" width="1" height="1" fill="#f23645"/>
<rect x="723" y="349" width="3" height="1" fill="#000"/>
<rect x="729" y="344" width="1" height="31" fill="#000"/>
<rect x="728" y="349" width="3" height="5" fill="#000"/>
<rect x="729" y="350" width="1" height="3" fill="#f23645"/>
<rect x="734" y="333" width="1" height="36" fill="#000"/>
<rect x="733" y="349" width="3" height="20" fill="#000"/>
<rect x="734" y="350" width="1" height="18" fill="#089981"/>
<rect x="739" y="325" width="1" height="26" fill="#000"/>
<rect x="738" y="340" width="3" height="5" fill="#000"/>
<rect x="739" y="341" width="1" height="3" fill="#f23645"/>
<rect x="744" y="330" width="1" height="14" fill="#000"/>
<rect x="743" y="333" width="3" height="6" fill="#000"/>
<rect x="744" y="334" width="1" height="4" fill="#089981"/>
<rect x="749" y="290" width="1" height="44" fill="#000"/>
<rect x="748" y="298" width="3" height="33" fill="#000"/>
<rect x="749" y="299" width="1" height="31" fill="#089981"/>
<rect x="754" y="279" width="1" height="29" fill="#000"/>
<rect x="753" y="284" width="3" height="4" fill="#000"/>
<rect x="754" y="285" width="1" height="2" fill="#089981"/>
<rect x="759" y="280" width="1" height="18" fill="#000"/>
<rect x="758" y="284" width="3" height="10" fill="#000"/>
<rect x="759" y="285" width="1" height="8" fill="#f23645"/>
<rect x="764" y="267" width="1" height="28" fill="#000"/>
<rect x="763" y="287" width="3" height="4" fill="#000"/>
<rect x="764" y="288" width="1" height="2" fill="#f23645"/>
<rect x="770" y="263" width="1" height="32" fill="#000"/>
<rect x="769" y="266" width="3" height="25" fill="#000"/>
<rect x="770" y="267" width="1" height="23" fill="#089981"/>
<rect x="775" y="264" width="1" height="21" fill="#000"/>
<rect x="774" y="266" width="3" height="15" fill="#000"/>
<rect x="775" y="267" width="1" height="13" fill="#f23645"/>
<rect x="780" y="291" width="1" height="27" fill="#000"/>
<rect x="779" y="298" width="3" height="10" fill="#000"/>
<rect x="780" y="299" width="1" height="8" fill="#f23645"/>
<rect x="785" y="99" width="1" height="221" fill="#000"/>
<rect x="784" y="149" width="3" height="162" fill="#000"/>
<rect x="785" y="150" width="1" height="160" fill="#089981"/>
<rect x="790" y="139" width="1" height="73" fill="#000"/>
<rect x="789" y="197" width="3" height="3" fill="#000"/>
<rect x="790" y="198" width="1" height="1" fill="#089981"/>
<rect x="795" y="149" width="1" height="39" fill="#000"/>
<rect x="794" y="172" width="3" height="13" fill="#000"/>
<rect x="795" y="173" width="1" height="11" fill="#089981"/>
<rect x="800" y="155" width="1" height="45" fill="#000"/>
<rect x="799" y="163" width="3" height="7" fill="#000"/>
<rect x="800" y="164" width="1" height="5" fill="#f23645"/>
<rect x="805" y="169" width="1" height="36" fill="#000"/>
<rect x="804" y="174" width="3" height="8" fill="#000"/>
<rect x="805" y="175" width="1" height="6" fill="#f23645"/>
<rect x="810" y="167" width="1" height="29" fill="#000"/>
<rect x="809" y="175" width="3" height="14" fill="#000"/>
<rect x="810" y="176" width="1" height="12" fill="#089981"/>
<rect x="815" y="178" width="1" height="23" fill="#000"/>
<rect x="814" y="188" width="3" height="3" fill="#000"/>
<rect x="815" y="189" width="1" height="1" fill="#089981"/>
<rect x="820" y="187" width="1" height="13" fill="#000"/>
<rect x="819" y="190" width="3" height="2" fill="#000"/>
<rect x="826" y="166" width="1" height="29" fill="#000"/>
<rect x="825" y="169" width="3" height="26" fill="#000"/>
<rect x="826" y="170" width="1" height="24" fill="#089981"/>
<rect x="831" y="153" width="1" height="26" fill="#000"/>
<rect x="830" y="161" width="3" height="12" fill="#000"/>
<rect x="831" y="162" width="1" height="10" fill="#089981"/>
<rect x="836" y="129" width="1" height="47" fill="#000"/>
<rect x="835" y="141" width="3" height="20" fill="#000"/>
<rect x="836" y="142" width="1" height="18" fill="#089981"/>
<rect x="841" y="91" width="1" height="50" fill="#000"/>
<rect x="840" y="117" width="3" height="14" fill="#000"/>
<rect x="841" y="118" width="1" height="12" fill="#089981"/>
<rect x="846" y="84" width="1" height="43" fill="#000"/>
<rect x="845" y="111" width="3" height="11" fill="#000"/>
<rect x="846" y="112" width="1" height="9" fill="#f23645"/>
<rect x="851" y="113" width="1" height="22" fill="#000"/>
<rect x="850" y="116" width="3" height="10" fill="#000"/>
<rect x="851" y="117" width="1" height="8" fill="#f23645"/>
<rect x="856" y="111" width="1" height="100" fill="#000"/>
<rect x="855" y="123" width="3" height="44" fill="#000"/>
<rect x="856" y="124" width="1" height="42" fill="#f23645"/>
<rect x="861" y="152" width="1" height="29" fill="#000"/>
<rect x="860" y="164" width="3" height="1" fill="#000"/>
<rect x="866" y="115" width="1" height="317" fill="#000"/>
<rect x="865" y="155" width="3" height="18" fill="#000"/>
<rect x="866" y="156" width="1" height="16" fill="#f23645"/>
<rect x="871" y="397" width="1" height="76" fill="#000"/>
<rect x="870" y="400" width="3" height="69" fill="#000"/>
<rect x="871" y="401" width="1" height="67" fill="#f23645"/>
<rect x="876" y="445" width="1" height="20" fill="#000"/>
<rect x="875" y="448" width="3" height="1" fill="#000"/>
<rect x="882" y="438" width="1" height="19" fill="#000"/>
<rect x="881" y="445" width="3" height="4" fill="#000"/>
<rect x="882" y="446" width="1" height="2" fill="#f23645"/>
<rect x="887" y="440" width="1" height="23" fill="#000"/>
<rect x="886" y="443" width="3" height="18" fill="#000"/>
<rect x="887" y="444" width="1" height="16" fill="#f23645"/>
<rect x="892" y="448" width="1" height="14" fill="#000"/>
<rect x="891" y="454" width="3" height="8" fill="#000"/>
<rect x="892" y="455" width="1" height="6" fill="#089981"/>
<rect x="897" y="445" width="1" height="14" fill="#000"/>
<rect x="896" y="454" width="3" height="4" fill="#000"/>
<rect x="897" y="455" width="1" height="2" fill="#f23645"/>
<rect x="902" y="435" width="1" height="21" fill="#000"/>
<rect x="901" y="440" width="3" height="14" fill="#000"/>
<rect x="902" y="441" width="1" height="12" fill="#089981"/>
<rect x="907" y="437" width="1" height="13" fill="#000"/>
<rect x="906" y="437" width="3" height="10" fill="#000"/>
<rect x="907" y="438" width="1" height="8" fill="#f23645"/>
<rect x="912" y="424" width="1" height="22" fill="#000"/>
<rect x="911" y="427" width="3" height="19" fill="#000"/>
<rect x="912" y="428" width="1" height="17" fill="#089981"/>
<rect x="917" y="421" width="1" height="16" fill="#000"/>
<rect x="916" y="429" width="3" height="6" fill="#000"/>
<rect x="917" y="430" width="1" height="4" fill="#f23645"/>
<rect x="922" y="429" width="1" height="16" fill="#000"/>
<rect x="921" y="434" width="3" height="4" fill="#000"/>
<rect x="922" y="435" width="1" height="2" fill="#f23645"/>
<rect x="927" y="429" width="1" height="12" fill="#000"/>
<rect x="926" y="434" width="3" height="2" fill="#000"/>
<rect x="933" y="432" width="1" height="13" fill="#000"/>
<rect x="932" y="436" width="3" height="4" fill="#000"/>
<rect x="933" y="437" width="1" height="2" fill="#f23645"/>
<rect x="938" y="435" width="1" height="17" fill="#000"/>
<rect x="937" y="438" width="3" height="14" fill="#000"/>
<rect x="938" y="439" width="1" height="12" fill="#f23645"/>
<rect x="943" y="445" width="1" height="8" fill="#000"/>
<rect x="942" y="447" width="3" height="4" fill="#000"/>
<rect x="943" y="448" width="1" height="2" fill="#089981"/>
<rect x="948" y="444" width="1" height="11" fill="#000"/>
<rect x="947" y="446" width="3" height="4" fill="#000"/>
<rect x="948" y="447" width="1" height="2" fill="#089981"/>
<rect x="953" y="438" width="1" height="12" fill="#000"/>
<rect x="952" y="443" width="3" height="2" fill="#000"/>
<rect x="958" y="433" width="1" height="11" fill="#000"/>
<rect x="957" y="438" width="3" height="5" fill="#000"/>
<rect x="958" y="439" width="1" height="3" fill="#089981"/>
<rect x="963" y="436" width="1" height="13" fill="#000"/>
<rect x="962" y="442" width="3" height="1" fill="#000"/>
<rect x="968" y="439" width="1" height="24" fill="#000"/>
<rect x="967" y="440" width="3" height="13" fill="#000"/>
<rect x="968" y="441" width="1" height="11" fill="#f23645"/>
<rect x="973" y="420" width="1" height="17" fill="#000"/>
<rect x="972" y="424" width="3" height="10" fill="#000"/>
<rect x="973" y="425" width="1" height="8" fill="#089981"/>
<rect x="978" y="410" width="1" height="14" fill="#000"/>
<rect x="977" y="411" width="3" height="12" fill="#000"/>
<rect x="978" y="412" width="1" height="10" fill="#089981"/>
<rect x="983" y="397" width="1" height="26" fill="#000"/>
<rect x="982" y="399" width="3" height="13" fill="#000"/>
<rect x="983" y="400" width="1" height="11" fill="#089981"/>
<rect x="989" y="391" width="1" height="18" fill="#000"/>
<rect x="988" y="398" width="3" height="7" fill="#000"/>
<rect x="989" y="399" width="1" height="5" fill="#f23645"/>
</g>
<line x1="10" y1="404.5" x2="1125" y2="404.5" stroke="#f23645" stroke-width="1" stroke-dasharray="1 2" shape-rendering="crispEdges"/>
</g>
<g transform="translate(990,585.4)"><circle cx="0" cy="0" r="11.5" fill="#ffffff"/><circle cx="0" cy="0" r="9.6" fill="#ffffff" stroke="#9c27b0" stroke-width="1.7"/><path d="M2.8,-5.6 L-4.6,0.3 L-0.7,0.3 L-3.7,5.5 L3.8,-0.5 L-0.3,-0.5 Z" fill="#9c27b0" stroke="#9c27b0" stroke-width="0.4" stroke-linejoin="round"/></g>
<g transform="translate(21.5,585.4)" fill="none" stroke="#6a1fff" stroke-width="1.7" stroke-linecap="butt"><circle cx="0" cy="0" r="11.5" fill="#ffffff" stroke="none"/><circle cx="0" cy="0" r="9.6" fill="#ffffff"/><path d="M-4.8,-3.9 L-0.9,0 L6.8,0 M2.9,-3.1 L6.8,0 L2.9,3.3 M-5.3,4.8 L-2.6,2" stroke-width="1.9"/></g>
<g transform="translate(331.5,585.4)" fill="none" stroke="#6a1fff" stroke-width="1.7" stroke-linecap="butt"><circle cx="0" cy="0" r="11.5" fill="#ffffff" stroke="none"/><circle cx="0" cy="0" r="9.6" fill="#ffffff"/><path d="M-4.8,-3.9 L-0.9,0 L6.8,0 M2.9,-3.1 L6.8,0 L2.9,3.3 M-5.3,4.8 L-2.6,2" stroke-width="1.9"/></g>
<g transform="translate(545.5,585.4)" fill="none" stroke="#6a1fff" stroke-width="1.7" stroke-linecap="butt"><circle cx="0" cy="0" r="11.5" fill="#ffffff" stroke="none"/><circle cx="0" cy="0" r="9.6" fill="#ffffff"/><path d="M-4.8,-3.9 L-0.9,0 L6.8,0 M2.9,-3.1 L6.8,0 L2.9,3.3 M-5.3,4.8 L-2.6,2" stroke-width="1.9"/></g>
<g transform="translate(754.5,585.4)" fill="none" stroke="#6a1fff" stroke-width="1.7" stroke-linecap="butt"><circle cx="0" cy="0" r="11.5" fill="#ffffff" stroke="none"/><circle cx="0" cy="0" r="9.6" fill="#ffffff"/><path d="M-4.8,-3.9 L-0.9,0 L6.8,0 M2.9,-3.1 L6.8,0 L2.9,3.3 M-5.3,4.8 L-2.6,2" stroke-width="1.9"/></g>
<g transform="translate(973.5,585.4)" fill="none" stroke="#6a1fff" stroke-width="1.7" stroke-linecap="butt"><circle cx="0" cy="0" r="11.5" fill="#ffffff" stroke="none"/><circle cx="0" cy="0" r="9.6" fill="#ffffff"/><path d="M-4.8,-3.9 L-0.9,0 L6.8,0 M2.9,-3.1 L6.8,0 L2.9,3.3 M-5.3,4.8 L-2.6,2" stroke-width="1.9"/></g>
<g font-size="12">
<text x="18.4" y="45.6" fill="#101010" textLength="21.6" lengthAdjust="spacingAndGlyphs">EMA</text>
<text x="47.5" y="45.6" fill="#f23645" textLength="35.4" lengthAdjust="spacingAndGlyphs">4.7749</text>
<text x="18.4" y="62.4" fill="#101010" textLength="21.6" lengthAdjust="spacingAndGlyphs">EMA</text>
<text x="47.5" y="62.4" fill="#2a2aff" textLength="35.4" lengthAdjust="spacingAndGlyphs">4.6980</text>
<text x="18.4" y="79.4" fill="#101010" textLength="15" lengthAdjust="spacingAndGlyphs">Vol</text>
<text x="41.7" y="79.4" fill="#ef5350" textLength="38.3" lengthAdjust="spacingAndGlyphs">27.95 K</text>
</g>
<g font-size="12.5" fill="#101010">
<text x="1133.2" y="78.9" textLength="35.6" lengthAdjust="spacingAndGlyphs">6.0000</text>
<text x="1133.2" y="126.6" textLength="35.6" lengthAdjust="spacingAndGlyphs">5.8000</text>
<text x="1133.2" y="174.4" textLength="35.6" lengthAdjust="spacingAndGlyphs">5.6000</text>
<text x="1133.2" y="222.2" textLength="35.6" lengthAdjust="spacingAndGlyphs">5.4000</text>
<text x="1133.2" y="269.9" textLength="35.6" lengthAdjust="spacingAndGlyphs">5.2000</text>
<text x="1133.2" y="317.7" textLength="35.6" lengthAdjust="spacingAndGlyphs">5.0000</text>
<text x="1133.2" y="365.4" textLength="35.6" lengthAdjust="spacingAndGlyphs">4.8000</text>
<text x="1133.2" y="413.2" textLength="35.6" lengthAdjust="spacingAndGlyphs">4.6000</text>
<text x="1133.2" y="460.9" textLength="35.6" lengthAdjust="spacingAndGlyphs">4.4000</text>
<text x="1133.2" y="508.7" textLength="35.6" lengthAdjust="spacingAndGlyphs">4.2000</text>
<text x="1133.2" y="556.4" textLength="35.6" lengthAdjust="spacingAndGlyphs">4.0000</text>
</g>
<path d="M1125,305 h46.8 a2,2 0 0 1 2,2 v13 a2,2 0 0 1 -2,2 h-46.8 z" fill="#2962ff"/><text x="1133.1" y="317.8" font-size="12.6" font-weight="bold" fill="#ffffff" textLength="35.3" lengthAdjust="spacingAndGlyphs">5.0000</text>
<path d="M1125,359.1 h46.8 a2,2 0 0 1 2,2 v12.600000000000001 a2,2 0 0 1 -2,2 h-46.8 z" fill="#f23645"/><text x="1133.1" y="371.9" font-size="12.6" font-weight="bold" fill="#ffffff" textLength="35.3" lengthAdjust="spacingAndGlyphs">4.7749</text>
<path d="M1125,378 h46.8 a2,2 0 0 1 2,2 v12.7 a2,2 0 0 1 -2,2 h-46.8 z" fill="#2a2aff"/><text x="1133.1" y="390.7" font-size="12.6" font-weight="bold" fill="#ffffff" textLength="35.3" lengthAdjust="spacingAndGlyphs">4.6980</text>
<rect x="1125" y="396.1" width="59.8" height="31" rx="1.5" ry="1.5" fill="#f23645"/>
<text x="1133.1" y="408.9" font-size="12.6" font-weight="bold" fill="#ffffff" textLength="35.3" lengthAdjust="spacingAndGlyphs">4.6195</text>
<text x="1133.1" y="422.3" font-size="12.4" fill="#ffffff" fill-opacity="0.75" textLength="45.8" lengthAdjust="spacingAndGlyphs">03:03:33</text>
<rect x="1125" y="561" width="51.8" height="17" rx="1.5" ry="1.5" fill="#ef5350"/>
<text x="1133.1" y="573.9" font-size="12.6" font-weight="bold" fill="#ffffff" textLength="39" lengthAdjust="spacingAndGlyphs">27.95 K</text>
<g font-size="12.4" fill="#101010" text-anchor="middle">
<text x="30.5" y="615.8" textLength="19.6" lengthAdjust="spacingAndGlyphs">Dec</text>
<text x="137.8" y="615.8" textLength="27.5" lengthAdjust="spacingAndGlyphs" font-weight="bold">2025</text>
<text x="245.5" y="615.8" textLength="19" lengthAdjust="spacingAndGlyphs">Feb</text>
<text x="341.5" y="615.8" textLength="20" lengthAdjust="spacingAndGlyphs">Mar</text>
<text x="449.3" y="615.8" textLength="18.5" lengthAdjust="spacingAndGlyphs">Apr</text>
<text x="555.5" y="615.8" textLength="21" lengthAdjust="spacingAndGlyphs">May</text>
<text x="663" y="615.8" textLength="19" lengthAdjust="spacingAndGlyphs">Jun</text>
<text x="764.5" y="615.8" textLength="16" lengthAdjust="spacingAndGlyphs">Jul</text>
<text x="876.5" y="615.8" textLength="20" lengthAdjust="spacingAndGlyphs">Aug</text>
<text x="983.8" y="615.8" textLength="19.5" lengthAdjust="spacingAndGlyphs">Sep</text>
<text x="1090.5" y="615.8" textLength="19" lengthAdjust="spacingAndGlyphs">Oct</text>
</g>
<g transform="translate(12.4,644.8) scale(0.822)" fill="#101010"><path d="M14 22H7V11H0V4h14v18z"/><circle cx="20" cy="8" r="4"/><path d="M28 22h-8l7.500-18h8L28 22z"/></g>
<text x="49.1" y="662.6" font-size="20.8" font-weight="bold" fill="#101010" textLength="121" lengthAdjust="spacingAndGlyphs">TradingView</text>
</svg>
</body></html>
